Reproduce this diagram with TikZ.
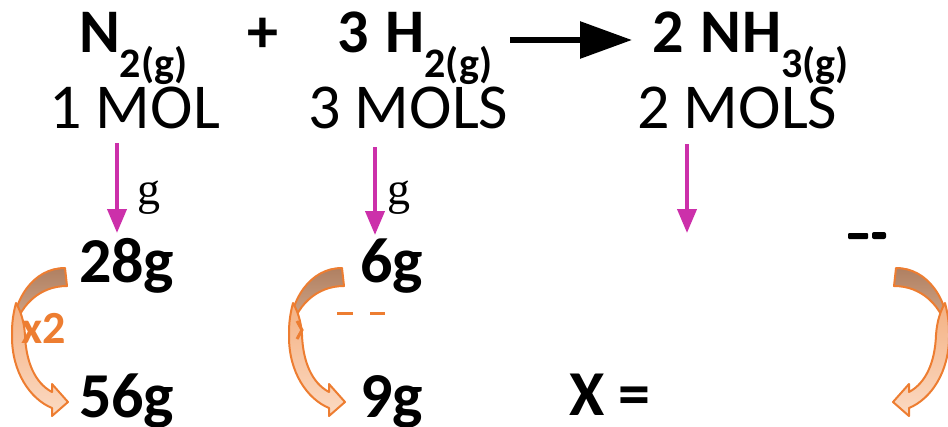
\documentclass[tikz,border=0pt]{standalone}
\usepackage{fontspec}
\setmainfont{Carlito}
\newfontfamily\gserif{Liberation Serif}
\usetikzlibrary{arrows.meta}
\definecolor{accorange}{HTML}{ED7D31}
\definecolor{pinkarr}{HTML}{CC30AA}
\definecolor{backtop}{RGB}{175,128,98}
\definecolor{backbot}{RGB}{220,176,146}
\definecolor{fronttop}{RGB}{244,177,131}
\definecolor{frontbot}{RGB}{251,218,195}
\newcommand\fmfont{\fontsize{62pt}{64pt}\selectfont\bfseries}
\newcommand\sbfont{\fontsize{42pt}{44pt}\selectfont\bfseries}
\newcommand\mlfont{\fontsize{64pt}{66pt}\selectfont}
\newcommand\msfont{\fontsize{64pt}{66pt}\selectfont\bfseries}
\newcommand\drawcurvarrow{%
  \shade[top color=backtop,bottom color=backbot,draw=accorange,line width=2pt,line join=round]
    (0,268) .. controls (-32,268) and (-53,300) .. (-53,337)
    .. controls (-47,305) and (-25,286) .. (2,286) -- cycle;
  \shade[top color=fronttop,bottom color=frontbot,draw=accorange,line width=2pt,line join=round]
    (-49,303) .. controls (-53,318) and (-53,327) .. (-53,337)
    .. controls (-53,372) and (-35,399) .. (-13,408)
    -- (-13,416) -- (3,402) -- (-13,384) -- (-13,392)
    .. controls (-30,383) and (-39,362) .. (-40,335)
    .. controls (-41,320) and (-45,310) .. (-49,303) -- cycle;
}
\begin{document}
\begin{tikzpicture}[x=1pt,y=-1pt,
  txt/.style={inner sep=0pt,outer sep=0pt,anchor=base west},
  pinkarrow/.style={draw=pinkarr,line width=4pt,-{Triangle[length=24pt,width=19pt]}},
  reactarrow/.style={draw=black,line width=6pt,-{Triangle[length=52pt,width=36pt]}}]
\useasboundingbox (0,0) rectangle (948,426);
% equation
\node[txt] (n2) at (79,52) {\fmfont N\sbfont\raisebox{-25pt}{2(g)}};
\node[txt] (plus) at (247,52) {\fmfont +};
\node[txt] (h2) at (337,52) {\fmfont 3\hspace{3pt} H\sbfont\raisebox{-25pt}{2(g)}};
\node[txt] (nh3) at (652,52) {\fmfont 2\hspace{3pt} N\hspace{1pt}H\sbfont\raisebox{-25pt}{3(g)}};
\coordinate (ra) at (510,40);
\coordinate (rb) at (632,40);
\draw[reactarrow] (ra) -- (rb);
% moles
\node[txt] (m1) at (49,128) {\mlfont 1 MOL};
\node[txt] (m2) at (308,128) {\mlfont 3 MOLS};
\node[txt] (m3) at (637,128) {\mlfont 2 MOLS};
% pink arrows
\coordinate (p1s) at (117,143); \coordinate (p1e) at (117,233);
\coordinate (p2s) at (375,147); \coordinate (p2e) at (375,235);
\coordinate (p3s) at (687,144); \coordinate (p3e) at (687,233);
\draw[pinkarrow] (p1s) -- (p1e);
\draw[pinkarrow] (p2s) -- (p2e);
\draw[pinkarrow] (p3s) -- (p3e);
\node[txt] (g1) at (137,204) {\gserif\fontsize{46pt}{48pt}\selectfont g};
\node[txt] (g2) at (387,204) {\gserif\fontsize{46pt}{48pt}\selectfont g};
% masses
\node[txt] (w1) at (79,282) {\msfont 28g};
\node[txt] (w2) at (360,282) {\msfont 6g};
\node[txt] (w3) at (79,417) {\msfont 56g};
\node[txt] (w4) at (360,417) {\msfont 9g};
\node[txt] (xe) at (569,415) {\msfont X =};
% curved arrows
\begin{scope}[shift={(65,0)}]\drawcurvarrow\end{scope}
\begin{scope}[shift={(342,0)}]\drawcurvarrow\end{scope}
\begin{scope}[shift={(896,0)},xscale=-1]\drawcurvarrow\end{scope}
\node[txt,text=accorange] (x2) at (21,343) {\fontsize{46pt}{48pt}\selectfont\bfseries x2};
% residual fragments
\draw[accorange,line width=3pt] (297,321) -- (302,330) -- (297,339);
\draw[accorange,line width=3pt] (337,313) -- (353,313);
\draw[accorange,line width=3pt] (370,313) -- (385,313);
\fill[black,rounded corners=1pt] (848,233) rectangle (868,239);
\fill[black,rounded corners=2pt] (872,232) rectangle (886,239);
\end{tikzpicture}
\end{document}
